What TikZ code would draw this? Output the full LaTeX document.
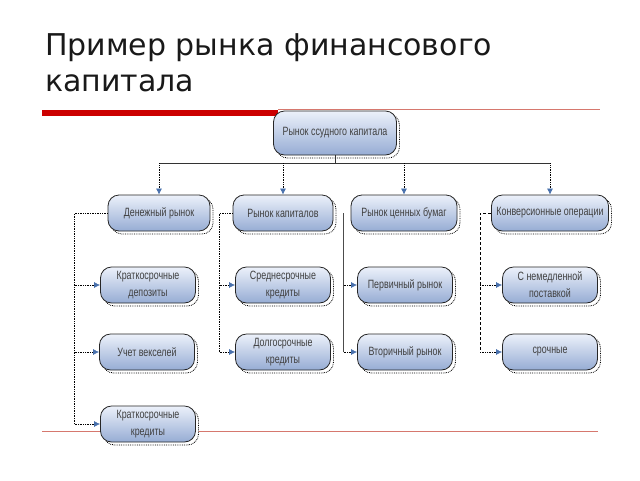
\documentclass[tikz,border=0pt]{standalone}
\usepackage{fontspec}
\setmainfont{DejaVu Sans}
\newfontfamily\boxfont[FakeStretch=0.74]{Liberation Sans}
\usetikzlibrary{arrows.meta,shadows}
\tikzset{>={Latex[length=6pt,width=6pt,color=arrblue]}}
\definecolor{boxtop}{RGB}{236,241,250}
\definecolor{boxbot}{RGB}{150,172,212}
\definecolor{arrblue}{RGB}{72,112,172}
\definecolor{slidered}{RGB}{204,0,0}
\definecolor{thinred}{RGB}{214,120,110}
\tikzset{
  box/.style={draw=black!85, line width=0.8pt, rounded corners=11pt,
    top color=boxtop, bottom color=boxbot,
    minimum width=95pt, minimum height=36pt, align=center, inner sep=2pt,
    font=\boxfont\fontsize{12}{17}\selectfont, text=black!75,
    copy shadow={shadow xshift=3pt, shadow yshift=-3pt, draw=black, densely dotted, fill=white}},
  link/.style={densely dotted, line width=0.7pt},
}

\begin{document}
\begin{tikzpicture}[x=1pt,y=-1pt]
  \useasboundingbox (0,0) rectangle (640,480);
  % title and slide lines
  \node[anchor=north west, align=left, inner sep=0pt, font=\fontsize{30}{36}\selectfont, text=black!90] (title) at (45,33) {Пример рынка финансового\\капитала};
  \draw[slidered, line width=6pt] (42,113) -- (278,113);
  \draw[thinred, line width=0.8pt] (278,109) -- (600,109);
  \draw[thinred, line width=1pt] (42,431) -- (598,431);

  % boxes
  \node[box, minimum width=123pt, minimum height=44pt] (top) at (335,133) {Рынок ссудного капитала};
  \node[box, minimum width=102pt] (dm)  at (159,213) {Денежный рынок};
  \node[box, minimum width=100pt] (rk)  at (283,213) {Рынок капиталов};
  \node[box, minimum width=106pt] (rcb) at (404,213) {Рынок ценных бумаг};
  \node[box, inner xsep=5pt] (ko)  at (550,213) {Конверсионные операции};

  \node[box] (dm1)  at (148,285) {Краткосрочные\\депозиты};
  \node[box] (dm2)  at (147,352) {Учет векселей};
  \node[box] (dm3)  at (148,424) {Краткосрочные\\кредиты};
  \node[box] (rk1)  at (283,285) {Среднесрочные\\кредиты};
  \node[box] (rk2)  at (283,352) {Долгосрочные\\кредиты};
  \node[box] (rcb1) at (405,285) {Первичный рынок};
  \node[box] (rcb2) at (405,352) {Вторичный рынок};
  \node[box] (ko1)  at (550,285) {С немедленной\\поставкой};
  \node[box] (ko2)  at (550,352) {срочные};

  % top bus
  \draw[black!80, line width=0.8pt] (top.south) -- ++(0,8) coordinate (bus);
  \draw[black!80, line width=0.8pt] (dm.north |- bus) -- (ko.north |- bus);
  \foreach \n in {dm,rk,rcb,ko}
    \draw[->, link] (\n.north |- bus) -- (\n.north);

  % branches
  \coordinate (dmx) at ([xshift=-33pt]dm.west);
  \draw[link] (dm.west) -- (dmx) -- (dmx |- dm3);
  \foreach \n in {dm1,dm2,dm3}
    \draw[->, link] (dmx |- \n) -- (\n.west);

  \coordinate (rkx) at ([xshift=-13pt]rk.west);
  \draw[link] (rk.west) -- (rkx) -- (rkx |- rk2);
  \foreach \n in {rk1,rk2}
    \draw[->, link] (rkx |- \n) -- (\n.west);

  \coordinate (rcbx) at ([xshift=-7pt]rcb.west);
  \draw[black!70, line width=0.6pt] (rcbx) -- (rcbx |- rcb2);
  \foreach \n in {rcb1,rcb2}
    \draw[->, link] (rcbx |- \n) -- (\n.west);

  \coordinate (kox) at ([xshift=-11pt]ko.west);
  \draw[link, densely dashed] (ko.west) -- (kox) -- (kox |- ko2);
  \foreach \n in {ko1,ko2}
    \draw[->, link] (kox |- \n) -- (\n.west);
\end{tikzpicture}
\end{document}
